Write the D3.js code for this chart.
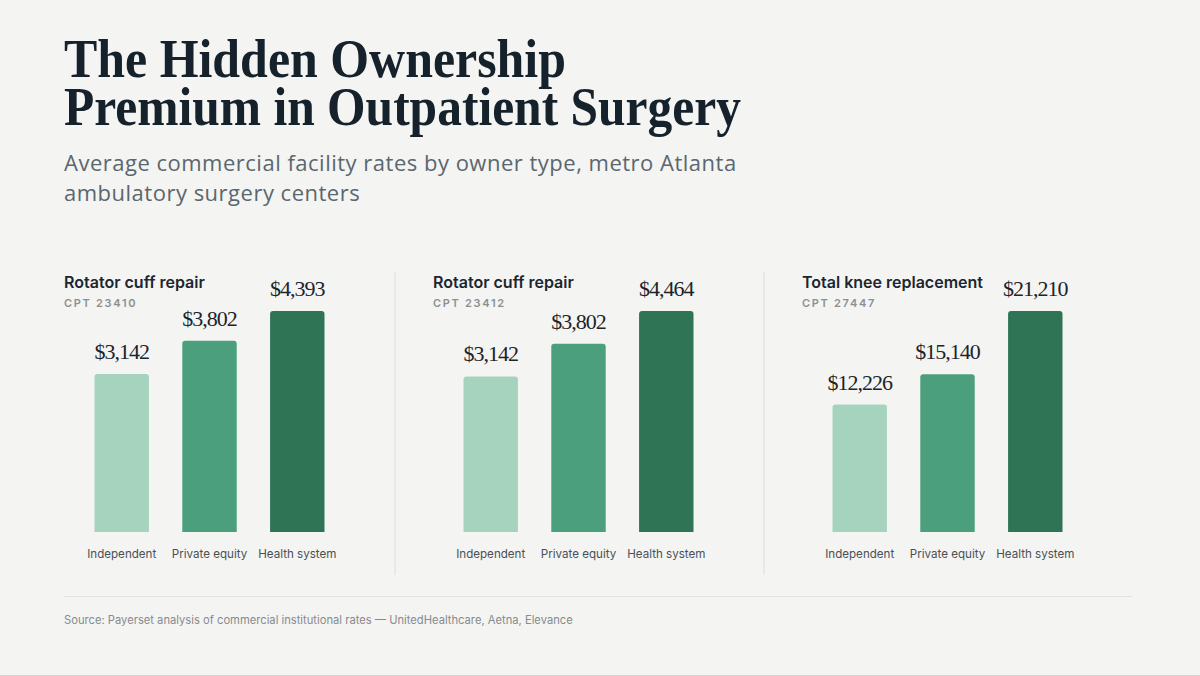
<!DOCTYPE html>
<html lang="en">
<head>
    <meta charset="UTF-8">
    <title>The Hidden Ownership Premium in Outpatient Surgery</title>
    <script src="https://cdn.jsdelivr.net/npm/d3@7"></script>
    <style>
        html, body {
            margin: 0;
            padding: 0;
            background: #f4f4f2;
        }
        svg {
            display: block;
        }
        .title {
            font-family: "Liberation Serif", serif;
            font-weight: 700;
            font-size: 55px;
            fill: #15212b;
        }
        .subtitle {
            font-family: "Open Sans", sans-serif;
            font-size: 22px;
            letter-spacing: 0.5px;
            fill: #5a676f;
        }
        .panel-title {
            font-family: Inter, sans-serif;
            font-weight: 600;
            font-size: 16px;
            fill: #1b2630;
        }
        .cpt {
            font-family: Inter, sans-serif;
            font-weight: 600;
            font-size: 11px;
            letter-spacing: 1.7px;
            fill: #8b9093;
        }
        .value {
            font-family: "Liberation Serif", serif;
            font-size: 22px;
            letter-spacing: -1px;
            fill: #1c242b;
        }
        .owner {
            font-family: Inter, sans-serif;
            font-size: 11.6px;
            fill: #4a5156;
        }
        .source {
            font-family: Inter, sans-serif;
            font-size: 11.2px;
            fill: #868b8f;
        }
    </style>
</head>
<body>
<svg width="1200" height="676"></svg>
<script>
    // owner categories (x axis of each panel)
    const owners = ["Independent", "Private equity", "Health system"];

    // procedures shown in the three panels
    const procedures = ["Rotator cuff repair", "Rotator cuff repair", "Total knee replacement"];
    const cptCodes = ["CPT 23410", "CPT 23412", "CPT 27447"];

    // average commercial facility rates, $ per owner type
    const rates23410 = [3142, 3802, 4393];
    const rates23412 = [3142, 3802, 4464];
    const rates27447 = [12226, 15140, 21210];

    const barColors = ["#a6d3be", "#4b9f7c", "#2f7555"];

    const titleLines = ["The Hidden Ownership", "Premium in Outpatient Surgery"];
    const subtitleLines = [
        "Average commercial facility rates by owner type, metro Atlanta",
        "ambulatory surgery centers"
    ];
    const sourceNote = "Source: Payerset analysis of commercial institutional rates \u2014 UnitedHealthcare, Aetna, Elevance";

    const svg = d3.select("svg");
    const fmt = d3.format("$,.0f");

    // header (title font is condensed in the original, squeeze to its width)
    const titleWidths = [502, 677];
    svg.selectAll(".title")
        .data(titleLines)
        .enter().append("text")
        .attr("class", "title")
        .attr("x", 64)
        .attr("y", (d, i) => 77 + i * 48)
        .attr("textLength", (d, i) => titleWidths[i])
        .attr("lengthAdjust", "spacingAndGlyphs")
        .text(d => d);

    svg.selectAll(".subtitle")
        .data(subtitleLines)
        .enter().append("text")
        .attr("class", "subtitle")
        .attr("x", 64)
        .attr("y", (d, i) => 171 + i * 30)
        .text(d => d);

    // one small bar chart per procedure
    const panels = [rates23410, rates23412, rates27447].map((values, i) => ({
        procedure: procedures[i],
        cpt: cptCodes[i],
        values: values
    }));

    const panelX = [64, 433, 802];
    const barBottom = 532, barTopMax = 311;
    const r = 3;

    const barPath = (x, y, w, h) =>
        `M${x},${y + h}V${y + r}Q${x},${y} ${x + r},${y}H${x + w - r}Q${x + w},${y} ${x + w},${y + r}V${y + h}Z`;

    panels.forEach((p, i) => {
        const x0 = panelX[i];
        const g = svg.append("g");

        const xScale = d3.scaleBand()
            .domain(owners)
            .range([x0 + 30.5, x0 + 260.5])
            .paddingInner(0.38);

        const yScale = d3.scaleLinear()
            .domain([0, d3.max(p.values)])
            .range([barBottom, barTopMax]);

        g.append("text")
            .attr("class", "panel-title")
            .attr("x", x0)
            .attr("y", 288)
            .text(p.procedure);

        g.append("text")
            .attr("class", "cpt")
            .attr("x", x0)
            .attr("y", 307)
            .text(p.cpt);

        const rows = p.values.map((v, j) => ({ owner: owners[j], value: v, color: barColors[j] }));

        g.selectAll(".bar")
            .data(rows)
            .enter().append("path")
            .attr("class", "bar")
            .attr("fill", d => d.color)
            .attr("d", d => barPath(xScale(d.owner), yScale(d.value),
                xScale.bandwidth(), barBottom - yScale(d.value)));

        g.selectAll(".value")
            .data(rows)
            .enter().append("text")
            .attr("class", "value")
            .attr("text-anchor", "middle")
            .attr("x", d => xScale(d.owner) + xScale.bandwidth() / 2)
            .attr("y", d => yScale(d.value) - 15)
            .text(d => fmt(d.value));

        // owner labels under the bars (axis without line/ticks)
        const axis = g.append("g")
            .attr("transform", `translate(0,${barBottom})`)
            .call(d3.axisBottom(xScale).tickSize(0).tickPadding(18));
        axis.select(".domain").remove();
        axis.selectAll("text")
            .attr("class", "owner")
            .attr("font-family", null)
            .attr("font-size", null)
            .attr("fill", null);

        if (i > 0) {
            svg.append("line")
                .attr("x1", x0 - 38).attr("x2", x0 - 38)
                .attr("y1", 272).attr("y2", 575)
                .attr("stroke", "#e6e6e3")
                .attr("stroke-width", 1.5);
        }
    });

    // footer
    svg.append("line")
        .attr("x1", 64).attr("x2", 1132)
        .attr("y1", 596.5).attr("y2", 596.5)
        .attr("stroke", "#e3e3e0")
        .attr("stroke-width", 1);

    svg.append("text")
        .attr("class", "source")
        .attr("x", 64)
        .attr("y", 624)
        .text(sourceNote);

    svg.append("line")
        .attr("x1", 0).attr("x2", 1200)
        .attr("y1", 675.5).attr("y2", 675.5)
        .attr("stroke", "#d6d6d4");
</script>
</body>
</html>
